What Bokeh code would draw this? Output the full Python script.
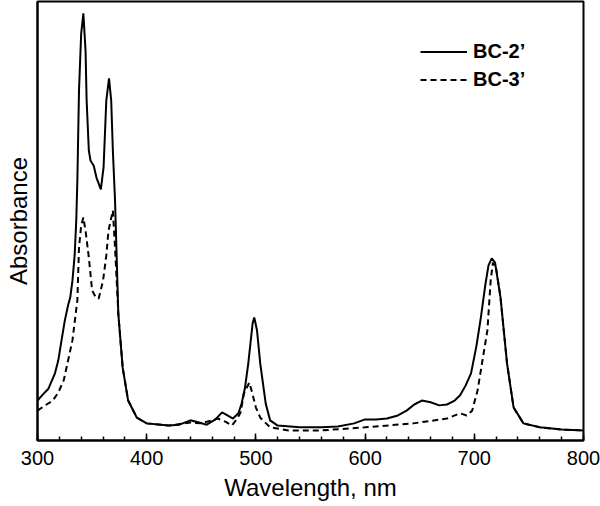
from bokeh.plotting import figure
from bokeh.models import Range1d, SingleIntervalTicker, FixedTicker, Legend, LegendItem
from bokeh.embed import file_html
from bokeh.resources import INLINE

# BC-2' (solid)
wl_bc2 = [300, 305, 310, 316, 319, 322, 325, 328, 330, 332, 334, 335.5, 336.5, 338, 340,
          342, 344, 345, 347, 348.5, 351.5, 354, 358, 360.5, 363, 365.5, 367.5, 369, 371,
          374, 378, 383, 391, 400, 420, 430, 440, 448, 455, 463, 469, 474, 479, 484, 487,
          490, 493, 497, 498.5, 501, 504, 509, 513, 520, 540, 560, 575, 590, 600, 610,
          620, 630, 638, 645, 652, 660, 668, 675, 682, 687, 692, 697, 702, 706, 710, 713,
          716, 719, 724, 730, 736, 745, 760, 780, 800]
abs_bc2 = [0.091, 0.105, 0.118, 0.153, 0.182, 0.228, 0.273, 0.308, 0.326, 0.364, 0.421,
           0.501, 0.592, 0.797, 0.927, 0.973, 0.888, 0.774, 0.661, 0.638, 0.626, 0.599,
           0.572, 0.622, 0.774, 0.825, 0.774, 0.661, 0.547, 0.289, 0.166, 0.091, 0.052,
           0.039, 0.034, 0.036, 0.046, 0.041, 0.036, 0.048, 0.064, 0.057, 0.050, 0.062,
           0.085, 0.120, 0.175, 0.267, 0.280, 0.251, 0.175, 0.084, 0.046, 0.034, 0.030,
           0.030, 0.032, 0.039, 0.048, 0.048, 0.050, 0.057, 0.068, 0.082, 0.091, 0.087,
           0.080, 0.082, 0.091, 0.103, 0.125, 0.153, 0.216, 0.280, 0.353, 0.399, 0.415,
           0.405, 0.326, 0.175, 0.075, 0.039, 0.030, 0.025, 0.023]

# BC-3' (dashed)
wl_bc3 = [300, 307, 314, 319, 324, 328, 332, 335, 336.5, 338, 340, 342, 344, 347, 350,
          353, 356, 360, 363, 365, 369, 371, 374, 378, 383, 391, 400, 420, 440, 450, 465,
          472, 478, 483, 486, 489, 494, 497, 500, 504, 513, 530, 560, 600, 644, 675, 687,
          693, 698, 703, 707, 712, 715, 717, 720, 724, 730, 736, 745, 760, 780, 800]
abs_bc3 = [0.068, 0.080, 0.091, 0.109, 0.137, 0.182, 0.228, 0.289, 0.319, 0.440, 0.490,
           0.508, 0.478, 0.417, 0.342, 0.328, 0.323, 0.364, 0.421, 0.478, 0.524, 0.440,
           0.289, 0.166, 0.091, 0.052, 0.039, 0.034, 0.041, 0.039, 0.050, 0.043, 0.034,
           0.050, 0.064, 0.107, 0.132, 0.105, 0.075, 0.052, 0.030, 0.023, 0.023, 0.030,
           0.039, 0.050, 0.062, 0.057, 0.068, 0.114, 0.175, 0.251, 0.364, 0.405, 0.392,
           0.326, 0.175, 0.075, 0.039, 0.030, 0.025, 0.023]

series_labels = ["BC-2\u2019", "BC-3\u2019"]
x_label = "Wavelength, nm"
y_label = "Absorbance"

FONT = "Liberation Sans"

p = figure(width=600, height=506, output_backend="svg", toolbar_location=None,
           x_range=Range1d(300, 800), y_range=Range1d(0, 1),
           min_border_left=37, min_border_right=17, min_border_top=1, min_border_bottom=66)
p.xgrid.visible = False
p.ygrid.visible = False
p.outline_line_color = "black"
p.outline_line_width = 2
p.outline_line_alpha = 1

r1 = p.line(wl_bc2, abs_bc2, line_color="black", line_width=2)
r2 = p.line(wl_bc3, abs_bc3, line_color="black", line_width=2, line_dash="6 4")

legend = Legend(items=[LegendItem(label=series_labels[0], renderers=[r1]),
                       LegendItem(label=series_labels[1], renderers=[r2])],
                location="top_right",
                label_text_font=FONT, label_text_font_size="20px",
                label_text_font_style="bold", label_text_color="black",
                glyph_width=47, glyph_height=27, label_height=27, label_width=73,
                label_standoff=6, padding=0, margin=37, spacing=1,
                border_line_color=None, background_fill_alpha=0)
p.add_layout(legend)

xa = p.xaxis[0]
xa.ticker = SingleIntervalTicker(interval=100, num_minor_ticks=5)
xa.axis_label = x_label
xa.axis_label_text_font = FONT
xa.axis_label_text_font_size = "24px"
xa.axis_label_text_font_style = "normal"
xa.axis_label_text_color = "black"
xa.axis_label_standoff = 6
xa.major_label_text_font = FONT
xa.major_label_text_font_size = "20px"
xa.major_label_text_color = "black"
xa.major_label_standoff = 10
xa.major_tick_in = 7
xa.major_tick_out = 0
xa.minor_tick_in = 4
xa.minor_tick_out = 0
xa.axis_line_width = 2
xa.major_tick_line_width = 1.5
xa.minor_tick_line_width = 1.5
xa.axis_line_color = "black"
xa.major_tick_line_color = "black"
xa.minor_tick_line_color = "black"

ya = p.yaxis[0]
ya.ticker = FixedTicker(ticks=[])
ya.axis_label = y_label
ya.axis_label_text_font = FONT
ya.axis_label_text_font_size = "24px"
ya.axis_label_text_font_style = "normal"
ya.axis_label_text_color = "black"
ya.axis_label_standoff = 6
ya.major_label_standoff = 0
ya.major_tick_in = 0
ya.major_tick_out = 0
ya.minor_tick_in = 0
ya.minor_tick_out = 0
ya.axis_line_width = 2
ya.axis_line_color = "black"

open("out.html", "w").write(file_html(p, INLINE))
